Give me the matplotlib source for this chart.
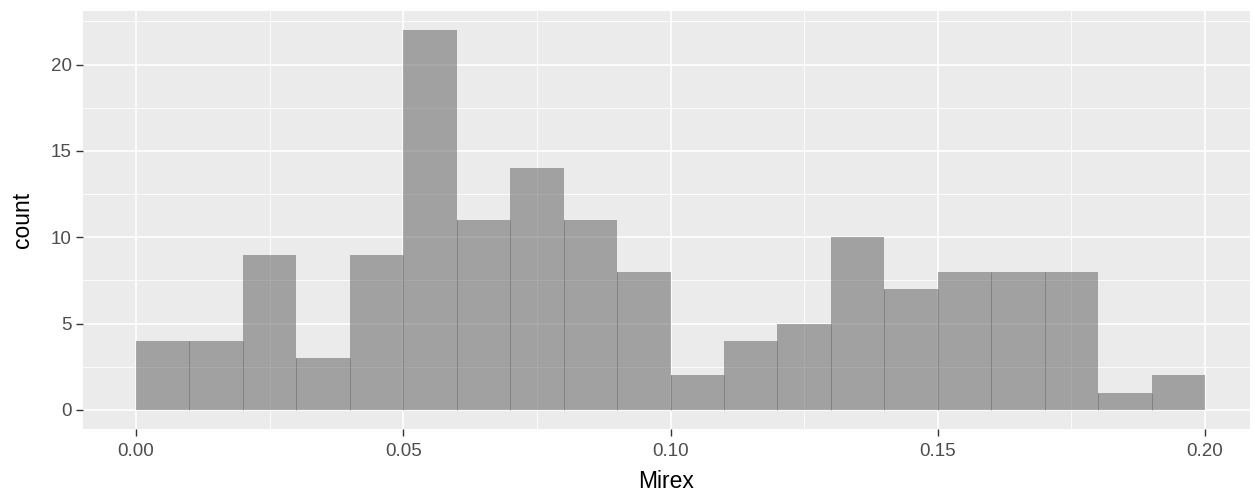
import numpy as np
import matplotlib
matplotlib.use('Agg')
import matplotlib.pyplot as plt
from matplotlib.ticker import MultipleLocator, FixedLocator

# - Datos del histograma (ancho de bin 0.01)
bin_edges = [0.00, 0.01, 0.02, 0.03, 0.04, 0.05, 0.06, 0.07, 0.08, 0.09, 0.10,
             0.11, 0.12, 0.13, 0.14, 0.15, 0.16, 0.17, 0.18, 0.19, 0.20]
counts = [4, 4, 9, 3, 9, 22, 11, 14, 11, 8, 2, 4, 5, 10, 7, 8, 8, 8, 1, 2]
x_ticks = [0.00, 0.05, 0.10, 0.15, 0.20]
x_tick_labels = ['0.00', '0.05', '0.10', '0.15', '0.20']
y_ticks = [0, 5, 10, 15, 20]

plt.rcParams['font.family'] = ['Liberation Sans', 'DejaVu Sans']

W, H = 1255, 495
fig = plt.figure(figsize=(W / 100, H / 100), dpi=100)
left, right, top, bottom = 83, 1250, 11, 429
ax = fig.add_axes([left / W, 1 - bottom / H, (right - left) / W, (bottom - top) / H])
ax.set_facecolor('#ebebeb')

edges = np.array(bin_edges)
ax.bar(edges[:-1], counts, width=np.diff(edges), align='edge',
       color='#595959', alpha=0.5, linewidth=0, zorder=3)

# - lineas finas entre barras contiguas
inner = edges[1:-1]
seam_h = np.minimum(counts[:-1], counts[1:])
ax.vlines(inner, 0, seam_h, color='#6a6a6a', linewidth=0.5, alpha=0.8, zorder=4)

ax.set_xlim(-0.0099, 0.2084)
ax.set_ylim(-1.1, 23.1)

ax.xaxis.set_major_locator(FixedLocator(x_ticks))
ax.set_xticklabels(x_tick_labels)
ax.xaxis.set_minor_locator(MultipleLocator(0.025))
ax.yaxis.set_major_locator(FixedLocator(y_ticks))
ax.yaxis.set_minor_locator(MultipleLocator(2.5))

ax.grid(which='major', color='white', linewidth=1.2, zorder=1)
ax.grid(which='minor', color='white', linewidth=0.6, zorder=1)
ax.set_axisbelow(True)

for s in ax.spines.values():
    s.set_visible(False)

ax.tick_params(which='major', length=5, width=1.0, color='#333333',
               labelcolor='#4d4d4d', labelsize=13.5)
ax.tick_params(axis='x', which='major', pad=5)
ax.tick_params(axis='y', which='major', pad=3)
ax.tick_params(which='minor', length=0)

ax.set_xlabel('Mirex', fontsize=16.5, color='black', labelpad=7)
ax.set_ylabel('count', fontsize=16.5, color='black', labelpad=12)

plt.savefig('out.png', dpi=100)
plt.close()
